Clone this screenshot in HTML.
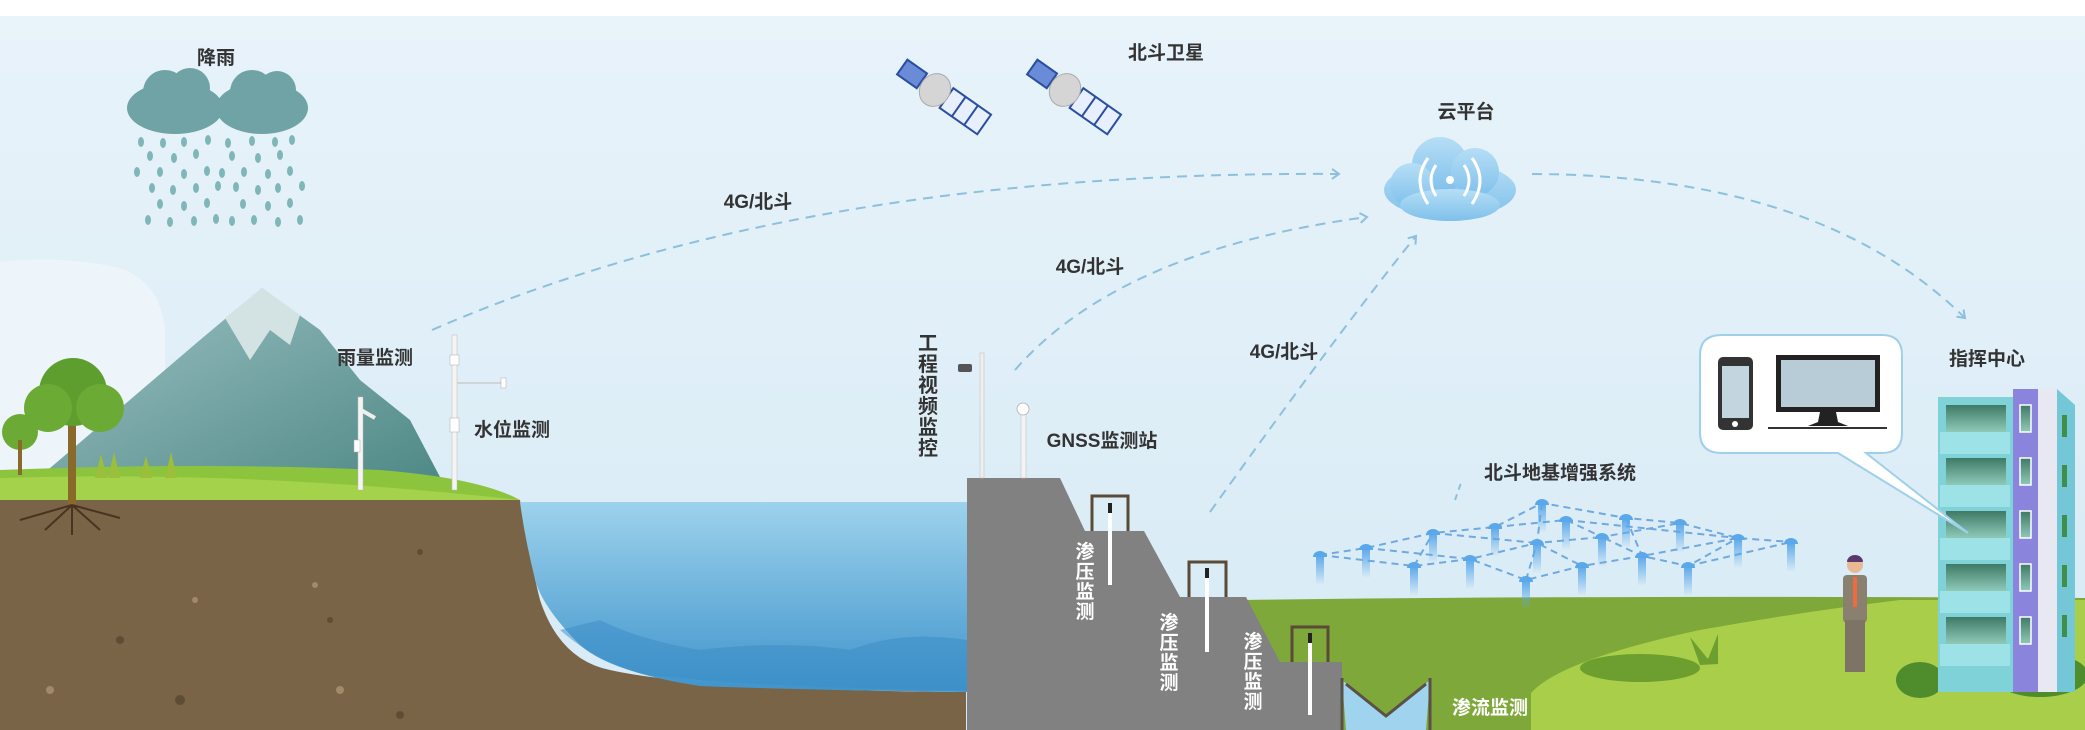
<!DOCTYPE html>
<html><head><meta charset="utf-8"><style>
html,body{margin:0;padding:0;background:#fff}
svg{display:block}
text{font-family:"Liberation Sans","Noto Sans CJK SC",sans-serif;font-weight:bold}
</style></head><body>
<svg width="2085" height="730" viewBox="0 0 2085 730" xmlns="http://www.w3.org/2000/svg">
<defs>
<linearGradient id="sky" x1="0" y1="0" x2="0" y2="1"><stop offset="0" stop-color="#e8f3fa"/><stop offset="1" stop-color="#d6eaf5"/></linearGradient>
<linearGradient id="water" x1="0" y1="0" x2="0" y2="1"><stop offset="0" stop-color="#9dd2ec"/><stop offset="1" stop-color="#3f94cc"/></linearGradient>
<linearGradient id="mtn" x1="0" y1="0" x2="1" y2="1"><stop offset="0" stop-color="#9fc2c4"/><stop offset="1" stop-color="#4a8683"/></linearGradient>
<linearGradient id="ant" x1="0" y1="0" x2="0" y2="1"><stop offset="0" stop-color="#5aa7ea"/><stop offset="1" stop-color="#5aa7ea" stop-opacity="0"/></linearGradient>
<linearGradient id="cloud" x1="0" y1="0" x2="0" y2="1"><stop offset="0" stop-color="#b6def6"/><stop offset="1" stop-color="#7fc0eb"/></linearGradient>
<linearGradient id="win" x1="0" y1="0" x2="0" y2="1"><stop offset="0" stop-color="#3f7a66"/><stop offset="1" stop-color="#8fc9b8"/></linearGradient>
<marker id="ar" markerWidth="12" markerHeight="12" refX="9" refY="6" orient="auto" markerUnits="userSpaceOnUse"><path d="M2,1 L9,6 L2,11" fill="none" stroke="#8cc0dc" stroke-width="2"/></marker>
</defs>
<rect width="2085" height="730" fill="#fff"/>
<rect y="16" width="2085" height="714" fill="url(#sky)"/>
<path d="M0,262 Q60,255 120,268 Q160,282 165,330 L165,470 L0,470Z" fill="#edf5fa"/>
<!-- mountain -->
<path d="M36,480 L200,340 L262,288 L320,330 L360,380 L410,420 L450,496 Z" fill="url(#mtn)"/>
<path d="M225,318 L262,288 L300,315 L290,345 L270,330 L250,360 Z" fill="#d3e3e3"/>
<!-- grass left -->
<path d="M0,470 Q200,462 380,470 Q480,478 520,500 L520,510 L0,510Z" fill="#8cc43e"/>
<path d="M0,478 Q250,470 520,500 L0,500Z" fill="#a4d24a"/>
<!-- soil -->
<path d="M0,500 L520,500 Q530,560 540,600 Q560,660 610,670 Q700,690 966,692 L966,730 L0,730Z" fill="#7a6447"/>
<g fill="#5f4c35"><circle cx="420" cy="552" r="3"/><circle cx="120" cy="640" r="4"/><circle cx="180" cy="700" r="5"/><circle cx="330" cy="620" r="3"/><circle cx="400" cy="715" r="4"/></g>
<g fill="#a08a6a"><circle cx="195" cy="600" r="3"/><circle cx="315" cy="585" r="3"/><circle cx="50" cy="690" r="4"/><circle cx="340" cy="690" r="4"/></g>
<!-- water -->
<path d="M520,502 L967,502 L967,692 Q800,690 700,686 Q610,672 580,645 Q545,610 536,583 Q525,540 520,502Z" fill="url(#water)"/>
<path d="M560,630 Q600,665 650,675 Q760,688 967,690 L967,640 Q900,630 850,650 Q780,640 700,650 Q640,640 600,620 Z" fill="#3a8cc6" opacity="0.5"/>
<!-- tree -->
<rect x="68" y="410" width="8" height="95" fill="#8a6a2a"/>
<circle cx="73" cy="392" r="34" fill="#5e9e2f"/><circle cx="48" cy="408" r="24" fill="#6aaa35"/><circle cx="100" cy="408" r="24" fill="#6aaa35"/>
<circle cx="20" cy="432" r="18" fill="#6aaa35"/><rect x="18" y="440" width="4" height="35" fill="#8a6a2a"/>
<path d="M72,505 L45,530 M72,505 L100,530 M72,505 L72,535 M72,505 L20,520 M72,505 L120,518" stroke="#4a3320" stroke-width="2"/>
<path d="M95,478 l6,-24 l6,24z M108,478 l6,-26 l6,26z M140,478 l6,-22 l6,22z M165,478 l6,-26 l6,26z" fill="#9bbf3a"/>
<!-- rain clouds -->
<g fill="#6fa3a6"><ellipse cx="175" cy="108" rx="48" ry="26"/><circle cx="165" cy="92" r="22"/><circle cx="190" cy="88" r="20"/>
<ellipse cx="262" cy="108" rx="46" ry="26"/><circle cx="252" cy="92" r="22"/><circle cx="277" cy="90" r="19"/></g>
<g fill="#7fb6b8">
<ellipse cx="141" cy="142" rx="3" ry="5"/><ellipse cx="163" cy="143" rx="3" ry="5"/><ellipse cx="184" cy="142" rx="3" ry="5"/><ellipse cx="208" cy="140" rx="3" ry="5"/><ellipse cx="228" cy="143" rx="3" ry="5"/><ellipse cx="252" cy="141" rx="3" ry="5"/><ellipse cx="275" cy="142" rx="3" ry="5"/><ellipse cx="292" cy="140" rx="3" ry="5"/>
<ellipse cx="150" cy="156" rx="3" ry="5"/><ellipse cx="174" cy="158" rx="3" ry="5"/><ellipse cx="196" cy="154" rx="3" ry="5"/><ellipse cx="232" cy="156" rx="3" ry="5"/><ellipse cx="258" cy="158" rx="3" ry="5"/><ellipse cx="280" cy="155" rx="3" ry="5"/>
<ellipse cx="137" cy="172" rx="3" ry="5"/><ellipse cx="160" cy="172" rx="3" ry="5"/><ellipse cx="184" cy="174" rx="3" ry="5"/><ellipse cx="207" cy="171" rx="3" ry="5"/><ellipse cx="222" cy="173" rx="3" ry="5"/><ellipse cx="244" cy="172" rx="3" ry="5"/><ellipse cx="268" cy="174" rx="3" ry="5"/><ellipse cx="290" cy="171" rx="3" ry="5"/>
<ellipse cx="152" cy="188" rx="3" ry="5"/><ellipse cx="173" cy="190" rx="3" ry="5"/><ellipse cx="196" cy="188" rx="3" ry="5"/><ellipse cx="218" cy="186" rx="3" ry="5"/><ellipse cx="236" cy="187" rx="3" ry="5"/><ellipse cx="258" cy="190" rx="3" ry="5"/><ellipse cx="278" cy="188" rx="3" ry="5"/><ellipse cx="302" cy="186" rx="3" ry="5"/>
<ellipse cx="160" cy="204" rx="3" ry="5"/><ellipse cx="184" cy="206" rx="3" ry="5"/><ellipse cx="207" cy="203" rx="3" ry="5"/><ellipse cx="243" cy="204" rx="3" ry="5"/><ellipse cx="268" cy="206" rx="3" ry="5"/><ellipse cx="290" cy="203" rx="3" ry="5"/>
<ellipse cx="148" cy="220" rx="3" ry="5"/><ellipse cx="170" cy="222" rx="3" ry="5"/><ellipse cx="194" cy="221" rx="3" ry="5"/><ellipse cx="216" cy="219" rx="3" ry="5"/><ellipse cx="232" cy="221" rx="3" ry="5"/><ellipse cx="254" cy="220" rx="3" ry="5"/><ellipse cx="278" cy="222" rx="3" ry="5"/><ellipse cx="300" cy="220" rx="3" ry="5"/>
</g>
<!-- poles left -->
<rect x="358" y="397" width="5" height="93" fill="#f4f4f4" stroke="#bbb" stroke-width="0.5"/>
<path d="M361,410 L375,418" stroke="#eee" stroke-width="4"/>
<rect x="354" y="440" width="6" height="12" fill="#fff" stroke="#aaa" stroke-width="0.5"/>
<rect x="452" y="335" width="5" height="155" fill="#f4f4f4" stroke="#bbb" stroke-width="0.5"/>
<rect x="450" y="355" width="9" height="10" fill="#fff" stroke="#aaa" stroke-width="0.5"/>
<rect x="450" y="418" width="9" height="14" fill="#fff" stroke="#aaa" stroke-width="0.5"/>
<line x1="457" y1="383" x2="502" y2="383" stroke="#ccc" stroke-width="1.5"/><rect x="501" y="378" width="5" height="10" fill="#fff" stroke="#aaa" stroke-width="0.5"/>
<!-- right ground -->
<path d="M1245,600 Q1600,595 2085,598 L2085,730 L1245,730Z" fill="#7fa83a"/>
<path d="M1531,693 Q1560,660 1700,630 Q1800,612 1900,600 L2085,600 L2085,730 L1531,730Z" fill="#a9cf4a"/>
<ellipse cx="1640" cy="668" rx="60" ry="14" fill="#6d9e30"/>
<path d="M1700,665 l-10,-28 l18,22 l10,-25 l0,30z" fill="#6d9e30"/>
<!-- dam -->
<path d="M967,730 L967,478 L1060,478 L1085,531 L1144,531 L1180,597 L1246,597 L1280,662 L1342,662 L1342,730Z" fill="#818181"/>
<path d="M1342,680 L1346,730 L1426,730 L1430,680 L1386,716 Z" fill="#9fd3ee"/>
<path d="M1342,678 L1342,730 M1430,678 L1430,730 M1346,684 L1386,716 L1426,684" stroke="#5a5047" stroke-width="3" fill="none"/>
<g fill="none" stroke="#5a4a38" stroke-width="3">
<path d="M1092,531 L1092,496 L1128,496 L1128,531"/><path d="M1189,597 L1189,562 L1226,562 L1226,597"/><path d="M1292,662 L1292,627 L1328,627 L1328,662"/></g>
<g fill="#fff"><rect x="1108" y="503" width="4" height="82"/><rect x="1205" y="568" width="4" height="84"/><rect x="1308" y="633" width="4" height="82"/></g>
<g fill="#222"><rect x="1108" y="503" width="4" height="10"/><rect x="1205" y="568" width="4" height="10"/><rect x="1308" y="633" width="4" height="10"/></g>
<!-- dam poles -->
<rect x="980" y="353" width="4" height="125" fill="#eee" stroke="#bbb" stroke-width="0.5"/>
<rect x="958" y="364" width="14" height="8" rx="2" fill="#555"/>
<rect x="1021" y="410" width="5" height="68" fill="#f3f3f3" stroke="#bbb" stroke-width="0.5"/><circle cx="1023" cy="409" r="6" fill="#fff" stroke="#bbb"/>
<!-- satellites -->
<g transform="translate(935,90) rotate(35)">
<rect x="-40" y="-9" width="24" height="18" fill="#6a8bd8" stroke="#2a4ea0" stroke-width="2"/>
<rect x="14" y="-12" width="46" height="24" fill="#e8f0ff" stroke="#2a4ea0" stroke-width="2"/><line x1="29" y1="-12" x2="29" y2="12" stroke="#2a4ea0" stroke-width="2"/><line x1="44" y1="-12" x2="44" y2="12" stroke="#2a4ea0" stroke-width="2"/>
<ellipse cx="0" cy="0" rx="15" ry="17" fill="#d5d5d5" stroke="#aaa"/></g>
<g transform="translate(1065,90) rotate(35)">
<rect x="-40" y="-9" width="24" height="18" fill="#6a8bd8" stroke="#2a4ea0" stroke-width="2"/>
<rect x="14" y="-12" width="46" height="24" fill="#e8f0ff" stroke="#2a4ea0" stroke-width="2"/><line x1="29" y1="-12" x2="29" y2="12" stroke="#2a4ea0" stroke-width="2"/><line x1="44" y1="-12" x2="44" y2="12" stroke="#2a4ea0" stroke-width="2"/>
<ellipse cx="0" cy="0" rx="15" ry="17" fill="#d5d5d5" stroke="#aaa"/></g>
<!-- cloud platform -->
<g fill="url(#cloud)"><ellipse cx="1450" cy="190" rx="66" ry="28"/><circle cx="1440" cy="165" r="28"/><circle cx="1475" cy="172" r="24"/><circle cx="1412" cy="185" r="22"/><ellipse cx="1450" cy="205" rx="50" ry="16"/></g>
<g fill="none" stroke="#fff" stroke-width="3"><path d="M1436,165 Q1426,180 1436,196"/><path d="M1464,165 Q1474,180 1464,196"/><path d="M1428,158 Q1412,180 1428,204"/><path d="M1472,158 Q1488,180 1472,204"/></g>
<circle cx="1450" cy="180" r="4" fill="#fff"/>
<!-- dashed links -->
<g fill="none" stroke="#8cc0dc" stroke-width="2" stroke-dasharray="10,7">
<path d="M432,330 Q800,170 1339,174" marker-end="url(#ar)"/>
<path d="M1015,370 Q1120,250 1367,217" marker-end="url(#ar)"/>
<path d="M1210,512 Q1340,330 1416,236" marker-end="url(#ar)"/>
<path d="M1532,174 Q1820,175 1965,318" marker-end="url(#ar)"/>
</g>
<path d="M1455,500 L1462,480" stroke="#8cc0dc" stroke-width="2" stroke-dasharray="6,5"/>
<!-- ground network -->
<g fill="none" stroke="#6ea9df" stroke-width="2" stroke-dasharray="7,5">
<path d="M1320,555 L1366,548 L1433,533 L1495,527 L1542,503 L1626,518 L1680,523 L1738,538 L1791,542"/>
<path d="M1320,555 L1414,566 L1470,559 L1537,543 L1602,537 L1642,556 L1688,566 L1738,538"/>
<path d="M1366,548 L1470,559 L1526,580 L1582,566 L1642,556 L1738,538"/>
<path d="M1433,533 L1537,543 L1582,566 M1495,527 L1566,520 L1602,537 L1680,523 M1542,503 L1537,543 L1526,580 M1414,566 L1433,533 M1626,518 L1642,556 M1688,566 L1791,542 M1566,520 L1738,538"/>
</g>
<g fill="url(#ant)">
<rect x="1316" y="555" width="8" height="30"/><rect x="1362" y="548" width="8" height="30"/><rect x="1429" y="533" width="8" height="30"/><rect x="1491" y="527" width="8" height="30"/><rect x="1538" y="503" width="8" height="30"/><rect x="1562" y="520" width="8" height="30"/><rect x="1622" y="518" width="8" height="30"/><rect x="1676" y="523" width="8" height="30"/><rect x="1734" y="538" width="8" height="30"/><rect x="1787" y="542" width="8" height="30"/><rect x="1410" y="566" width="8" height="30"/><rect x="1466" y="559" width="8" height="30"/><rect x="1533" y="543" width="8" height="30"/><rect x="1598" y="537" width="8" height="30"/><rect x="1522" y="580" width="8" height="30"/><rect x="1578" y="566" width="8" height="30"/><rect x="1638" y="556" width="8" height="30"/><rect x="1684" y="566" width="8" height="30"/>
</g>
<g fill="#5aa7ea">
<path d="M1313,557 a7,6 0 0 1 14,0z"/><path d="M1359,550 a7,6 0 0 1 14,0z"/><path d="M1426,535 a7,6 0 0 1 14,0z"/><path d="M1488,529 a7,6 0 0 1 14,0z"/><path d="M1535,505 a7,6 0 0 1 14,0z"/><path d="M1559,522 a7,6 0 0 1 14,0z"/><path d="M1619,520 a7,6 0 0 1 14,0z"/><path d="M1673,525 a7,6 0 0 1 14,0z"/><path d="M1731,540 a7,6 0 0 1 14,0z"/><path d="M1784,544 a7,6 0 0 1 14,0z"/><path d="M1407,568 a7,6 0 0 1 14,0z"/><path d="M1463,561 a7,6 0 0 1 14,0z"/><path d="M1530,545 a7,6 0 0 1 14,0z"/><path d="M1595,539 a7,6 0 0 1 14,0z"/><path d="M1519,582 a7,6 0 0 1 14,0z"/><path d="M1575,568 a7,6 0 0 1 14,0z"/><path d="M1635,558 a7,6 0 0 1 14,0z"/><path d="M1681,568 a7,6 0 0 1 14,0z"/>
</g>
<!-- person -->
<rect x="1843" y="575" width="24" height="48" rx="4" fill="#8a8070"/>
<rect x="1845" y="620" width="20" height="52" fill="#7d7466"/>
<circle cx="1855" cy="565" r="8" fill="#e9b894"/><path d="M1847,562 a8,7 0 0 1 16,0z" fill="#5a3a6a"/>
<rect x="1853" y="577" width="4" height="30" fill="#f06a40"/>
<!-- bushes -->
<ellipse cx="1920" cy="680" rx="24" ry="18" fill="#4e8c2c"/><ellipse cx="2040" cy="675" rx="48" ry="22" fill="#4e8c2c"/>
<!-- building -->
<rect x="1938" y="397" width="75" height="295" fill="#7fd3d8"/>
<rect x="2013" y="389" width="25" height="303" fill="#8a84dd"/>
<rect x="2038" y="389" width="19" height="303" fill="#e8e8f2"/>
<path d="M2057,389 L2075,405 L2075,692 L2057,692Z" fill="#74c7d6"/>
<g fill="url(#win)"><rect x="1946" y="405" width="60" height="27"/><rect x="1946" y="458" width="60" height="27"/><rect x="1946" y="511" width="60" height="27"/><rect x="1946" y="564" width="60" height="27"/><rect x="1946" y="617" width="60" height="27"/></g>
<g fill="#9de2e6"><rect x="1940" y="432" width="70" height="22"/><rect x="1940" y="485" width="70" height="22"/><rect x="1940" y="538" width="70" height="22"/><rect x="1940" y="591" width="70" height="22"/><rect x="1940" y="644" width="70" height="22"/></g>
<g fill="url(#win)" stroke="#fff" stroke-width="1.5"><rect x="2020" y="405" width="11" height="27"/><rect x="2020" y="458" width="11" height="27"/><rect x="2020" y="511" width="11" height="27"/><rect x="2020" y="564" width="11" height="27"/><rect x="2020" y="617" width="11" height="27"/></g>
<g fill="#3f8f4a"><rect x="2062" y="415" width="5" height="22"/><rect x="2062" y="465" width="5" height="22"/><rect x="2062" y="515" width="5" height="22"/><rect x="2062" y="565" width="5" height="22"/><rect x="2062" y="615" width="5" height="22"/></g>
<!-- bubble -->
<path d="M1722,335 L1882,335 Q1902,335 1902,355 L1902,433 Q1902,453 1882,453 L1866,453 L1968,533 L1838,453 L1722,453 Q1700,453 1700,433 L1700,355 Q1700,335 1722,335Z" fill="#fff" stroke="#9fd0ea" stroke-width="2"/>
<rect x="1718" y="357" width="35" height="73" rx="5" fill="#333"/><rect x="1722" y="366" width="27" height="52" fill="#c3d6e0"/><circle cx="1735" cy="424" r="3" fill="#fff"/>
<rect x="1776" y="355" width="104" height="57" fill="#222"/><rect x="1781" y="360" width="94" height="47" fill="#b8ccd8"/>
<path d="M1820,412 L1836,412 L1838,422 L1848,426 L1808,426 L1818,422Z" fill="#222"/>
<line x1="1768" y1="428" x2="1887" y2="428" stroke="#333" stroke-width="2"/>
<!-- labels -->
<g fill="#333" font-size="19">
<text x="216" y="64" text-anchor="middle">降雨</text>
<text x="1166" y="59" text-anchor="middle">北斗卫星</text>
<text x="1466" y="118" text-anchor="middle">云平台</text>
<text x="758" y="208" text-anchor="middle">4G/北斗</text>
<text x="1090" y="273" text-anchor="middle">4G/北斗</text>
<text x="1284" y="358" text-anchor="middle">4G/北斗</text>
<text x="375" y="364" text-anchor="middle">雨量监测</text>
<text x="512" y="436" text-anchor="middle">水位监测</text>
<text x="1102" y="447" text-anchor="middle">GNSS监测站</text>
<text x="1560" y="479" text-anchor="middle">北斗地基增强系统</text>
<text x="1987" y="365" text-anchor="middle">指挥中心</text>
</g>
<g fill="#333" font-size="20" text-anchor="middle">
<text x="928" y="350">工</text><text x="928" y="371">程</text><text x="928" y="392">视</text><text x="928" y="413">频</text><text x="928" y="434">监</text><text x="928" y="455">控</text>
</g>
<g fill="#fff" font-size="19" text-anchor="middle">
<text x="1085" y="558">渗</text><text x="1085" y="578">压</text><text x="1085" y="598">监</text><text x="1085" y="618">测</text>
<text x="1169" y="629">渗</text><text x="1169" y="649">压</text><text x="1169" y="669">监</text><text x="1169" y="689">测</text>
<text x="1253" y="648">渗</text><text x="1253" y="668">压</text><text x="1253" y="688">监</text><text x="1253" y="708">测</text>
<text x="1490" y="714">渗流监测</text>
</g>
</svg>
</body></html>
